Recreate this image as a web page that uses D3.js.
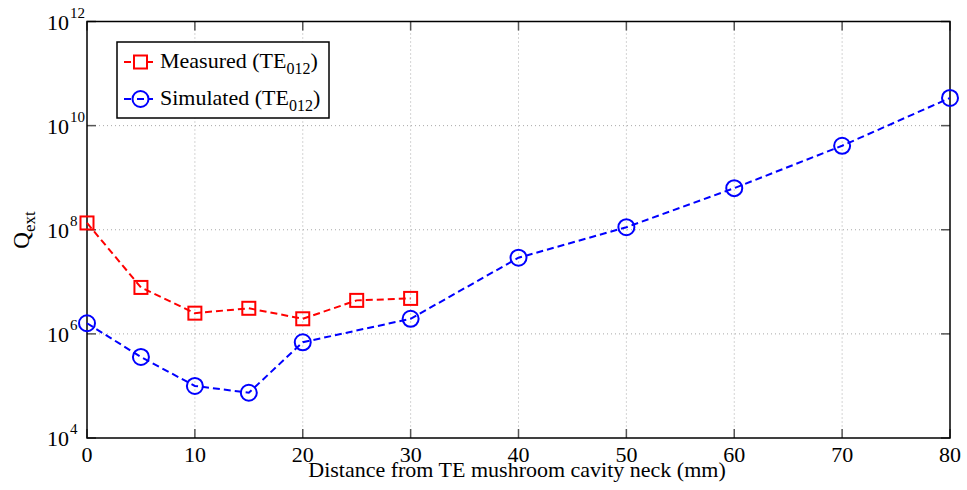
<!DOCTYPE html>
<html><head><meta charset="utf-8">
<script src="https://cdn.jsdelivr.net/npm/d3@7"></script>
<style>body{margin:0;background:#fff}svg{display:block}text{font-family:"Liberation Serif","Times New Roman",serif;fill:#000}</style>
</head><body><svg id="c" width="967" height="490"></svg>
<script>
const measuredX = [0, 5, 10, 15, 20, 25, 30];
const measuredQ = [1.35e8, 7.8e6, 2.5e6, 3.1e6, 1.95e6, 4.4e6, 4.8e6];
const simulatedX = [0, 5, 10, 15, 20, 30, 40, 50, 60, 70, 80];
const simulatedQ = [1.6e6, 3.6e5, 1.0e5, 7.4e4, 6.9e5, 1.95e6, 2.9e7, 1.12e8, 6.3e8, 4.1e9, 3.4e10];
const xTicks = [0, 10, 20, 30, 40, 50, 60, 70, 80];
const yExponents = [4, 6, 8, 10, 12];
const seriesNames = ["Measured", "Simulated"];

const svg = d3.select("#c");
const L = 87, R = 950, T = 21.5, B = 438;
const x = d3.scaleLinear().domain([0, 80]).range([L, R]);
const y = d3.scaleLog().domain([1e4, 1e12]).range([B, T]);

// grid
const g = svg.append("g");
g.selectAll(".gx").data(xTicks.slice(1, -1)).enter().append("line")
  .attr("x1", d => x(d)).attr("x2", d => x(d)).attr("y1", T).attr("y2", B)
  .attr("stroke", "#a8a8a8").attr("stroke-width", 1).attr("stroke-dasharray", "1,3");
g.selectAll(".gy").data(yExponents.slice(1, -1)).enter().append("line")
  .attr("x1", L).attr("x2", R).attr("y1", d => y(Math.pow(10, d))).attr("y2", d => y(Math.pow(10, d)))
  .attr("stroke", "#a8a8a8").attr("stroke-width", 1).attr("stroke-dasharray", "1,3");

// ticks (inward, all sides)
const tl = 9;
xTicks.forEach(t => {
  g.append("line").attr("x1", x(t)).attr("x2", x(t)).attr("y1", B).attr("y2", B - tl).attr("stroke", "#555").attr("stroke-width", 1.5);
  g.append("line").attr("x1", x(t)).attr("x2", x(t)).attr("y1", T).attr("y2", T + tl).attr("stroke", "#555").attr("stroke-width", 1.5);
});
yExponents.forEach(e => {
  const yy = y(Math.pow(10, e));
  g.append("line").attr("x1", L).attr("x2", L + tl).attr("y1", yy).attr("y2", yy).attr("stroke", "#555").attr("stroke-width", 1.5);
  g.append("line").attr("x1", R).attr("x2", R - tl).attr("y1", yy).attr("y2", yy).attr("stroke", "#555").attr("stroke-width", 1.5);
});

// frame
svg.append("rect").attr("x", L).attr("y", T).attr("width", R - L).attr("height", B - T)
  .attr("fill", "none").attr("stroke", "#000").attr("stroke-width", 1.5);

// x tick labels
svg.selectAll(".xl").data(xTicks).enter().append("text")
  .attr("x", d => x(d)).attr("y", 462).attr("text-anchor", "middle")
  .attr("font-size", 22).text(d => d);

// y tick labels
yExponents.forEach(e => {
  const yy = y(Math.pow(10, e));
  svg.append("text").attr("x", 69).attr("y", yy + 8).attr("text-anchor", "end").attr("font-size", 22).text("10");
  svg.append("text").attr("x", 70).attr("y", yy - 4).attr("font-size", 15).text(e);
});

// axis labels
svg.append("text").attr("x", 517).attr("y", 477).attr("text-anchor", "middle").attr("font-size", 22)
  .text("Distance from TE mushroom cavity neck (mm)");
const yl = svg.append("text").attr("transform", "translate(29,230) rotate(-90)").attr("text-anchor", "middle").attr("font-size", 23);
yl.append("tspan").text("Q");
yl.append("tspan").attr("font-size", 17).attr("dy", 6).text("ext");

// series
const line = d3.line().x(d => x(d[0])).y(d => y(d[1]));
const mData = measuredX.map((v, i) => [v, measuredQ[i]]);
const sData = simulatedX.map((v, i) => [v, simulatedQ[i]]);

svg.append("path").datum(sData).attr("d", line).attr("fill", "none").attr("stroke", "#0000ff")
  .attr("stroke-width", 2).attr("stroke-dasharray", "7,4");
svg.append("path").datum(mData).attr("d", line).attr("fill", "none").attr("stroke", "#ff0000")
  .attr("stroke-width", 2).attr("stroke-dasharray", "7,4");

svg.selectAll(".sm").data(sData).enter().append("circle")
  .attr("cx", d => x(d[0])).attr("cy", d => y(d[1])).attr("r", 8)
  .attr("fill", "none").attr("stroke", "#0000ff").attr("stroke-width", 2);
svg.selectAll(".mm").data(mData).enter().append("rect")
  .attr("x", d => x(d[0]) - 6.5).attr("y", d => y(d[1]) - 6.5).attr("width", 13).attr("height", 13)
  .attr("fill", "none").attr("stroke", "#ff0000").attr("stroke-width", 2);

// legend
const lg = svg.append("g");
lg.append("rect").attr("x", 117).attr("y", 42).attr("width", 212).attr("height", 76)
  .attr("fill", "#fff").attr("stroke", "#000").attr("stroke-width", 1.5);
const rows = [{n: seriesNames[0], c: "#ff0000", y: 62, m: "sq"}, {n: seriesNames[1], c: "#0000ff", y: 99, m: "ci"}];
rows.forEach(r => {
  lg.append("line").attr("x1", 124).attr("x2", 157).attr("y1", r.y).attr("y2", r.y)
    .attr("stroke", r.c).attr("stroke-width", 2).attr("stroke-dasharray", "7,4");
  if (r.m === "sq") {
    lg.append("rect").attr("x", 134).attr("y", r.y - 6.5).attr("width", 13).attr("height", 13)
      .attr("fill", "#fff").attr("stroke", r.c).attr("stroke-width", 2);
  } else {
    lg.append("circle").attr("cx", 140.5).attr("cy", r.y).attr("r", 8)
      .attr("fill", "#fff").attr("stroke", r.c).attr("stroke-width", 2);
    lg.append("line").attr("x1", 137).attr("x2", 144).attr("y1", r.y).attr("y2", r.y)
      .attr("stroke", r.c).attr("stroke-width", 2);
  }
  const t = lg.append("text").attr("x", 160).attr("y", r.y + 6).attr("font-size", 22);
  t.append("tspan").text(r.n + " (TE");
  t.append("tspan").attr("font-size", 16).attr("dy", 6).text("012");
  t.append("tspan").attr("dy", -6).text(")");
});
</script></body></html>
